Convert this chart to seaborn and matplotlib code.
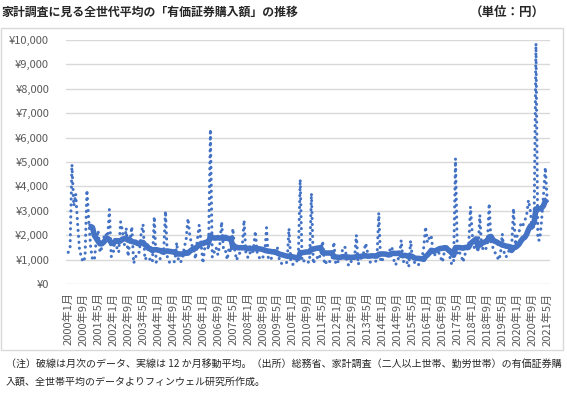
import matplotlib
matplotlib.use("Agg")
import matplotlib.pyplot as plt
from matplotlib.patches import Rectangle
import numpy as np
import pandas as pd
import seaborn as sns

# monthly securities purchases per household (yen)
y2000 = [1300, 1500, 4900, 3200, 3700, 2500, 1450, 1100, 900, 1100, 3850, 2600]
y2001 = [1500, 1000, 980, 1800, 2200, 1300, 1500, 1900, 2080, 1800, 3060, 1130]
y2002 = [1200, 1900, 1500, 1300, 2550, 2200, 1600, 2300, 1130, 1800, 2350, 850]
y2003 = [1100, 1300, 1300, 2080, 2450, 1000, 1100, 1000, 1030, 900, 2760, 900]
y2004 = [900, 1000, 1300, 1300, 2990, 1100, 900, 900, 850, 950, 1700, 900]
y2005 = [900, 1000, 1500, 1800, 2690, 2000, 1600, 1500, 1030, 1800, 2420, 1700]
y2006 = [850, 1500, 1700, 1400, 6340, 1100, 1300, 1500, 1200, 1600, 2550, 1400]
y2007 = [1400, 1000, 1500, 1300, 2280, 1400, 980, 1200, 1300, 1500, 2620, 1200]
y2008 = [1100, 1300, 1200, 1400, 2170, 1300, 1100, 1000, 1100, 1200, 2310, 1000]
y2009 = [1000, 1100, 1200, 1300, 1500, 900, 850, 800, 850, 900, 2280, 900]
y2010 = [800, 900, 900, 1100, 4290, 900, 950, 1000, 900, 900, 3720, 830]
y2011 = [1050, 1100, 1000, 1300, 1760, 800, 900, 1000, 900, 1000, 1720, 800]
y2012 = [900, 1000, 1200, 1530, 1500, 900, 750, 900, 1000, 1000, 2010, 800]
y2013 = [1000, 1100, 1300, 1670, 1300, 900, 900, 900, 900, 1000, 2920, 900]
y2014 = [1000, 1100, 1200, 1300, 1400, 1530, 1000, 780, 1000, 1100, 1800, 900]
y2015 = [1000, 900, 700, 1780, 1000, 900, 800, 760, 900, 1000, 1500, 2350]
y2016 = [1700, 1900, 2000, 1300, 1200, 1300, 1300, 1100, 900, 1300, 1500, 1400]
y2017 = [1100, 800, 900, 5150, 1200, 1300, 1200, 900, 1200, 1400, 1500, 3170]
y2018 = [2000, 1500, 1700, 1300, 2830, 1400, 1500, 1400, 1600, 3300, 1700, 1500]
y2019 = [1300, 1200, 980, 1200, 2060, 1300, 1100, 1300, 1400, 1500, 3100, 1600]
y2020 = [2000, 2150, 2500, 2400, 2600, 2800, 3440, 3000, 2200, 2400, 9860, 1800]
y2021 = [1800, 2600, 3600, 4780, 3400]

yearly = [y2000, y2001, y2002, y2003, y2004, y2005, y2006, y2007, y2008, y2009, y2010,
          y2011, y2012, y2013, y2014, y2015, y2016, y2017, y2018, y2019, y2020, y2021]
monthly = [v for year in yearly for v in year]

dates = pd.date_range("2000-01-01", periods=len(monthly), freq="MS")
df = pd.DataFrame({"pos": np.arange(len(monthly)), "value": monthly})
df["ma12"] = df["value"].rolling(12).mean()

title = "家計調査に見る全世代平均の「有価証券購入額」の推移"
unit = "（単位：円）"
note1 = "（注）破線は月次のデータ、実線は 12 か月移動平均。（出所）総務省、家計調査（二人以上世帯、勤労世帯）の有価証券購"
note2 = "入額、全世帯平均のデータよりフィンウェル研究所作成。"

blue = "#4472C4"
grey = "#595959"

sns.set_theme(style="white")
plt.rcParams["font.family"] = ["Noto Sans CJK JP", "DejaVu Sans"]

fig = plt.figure(figsize=(5.67, 3.94), dpi=100)
ax = fig.add_axes([0.116, 0.279, 0.854, 0.6195])

sns.lineplot(data=df, x="pos", y="value", ax=ax, color=blue, lw=2.2,
             linestyle=(0, (0.05, 1.9)), dash_capstyle="round")
sns.lineplot(data=df, x="pos", y="ma12", ax=ax, color=blue, lw=4.0,
             solid_capstyle="butt")

ax.set_xlim(-1.3, 257.5)
ax.set_ylim(0, 10000)
ax.set_yticks(np.arange(0, 10001, 1000))
ax.set_yticklabels([f"¥{v:,}" for v in range(0, 10001, 1000)])
tick_pos = df["pos"][::8]
ax.set_xticks(tick_pos)
ax.set_xticklabels([f"{d.year}年{d.month}月" for d in dates[::8]], rotation=90)
ax.tick_params(axis="both", length=0, labelsize=8, labelcolor=grey)
ax.tick_params(axis="y", pad=12)
ax.tick_params(axis="x", pad=6)
ax.set_xlabel("")
ax.set_ylabel("")
ax.yaxis.grid(True, color="#D9D9D9", lw=1)
ax.set_axisbelow(True)
for s in ax.spines.values():
    s.set_visible(False)

fig.patches.append(Rectangle((1 / 567, 1 - 350 / 394), 562 / 567, 322 / 394,
                             transform=fig.transFigure, fill=False,
                             ec="#D9D9D9", lw=1))
fig.text(0.002, 1 - 12.5 / 394, title, fontsize=8.6, weight="bold", va="center")
fig.text(470 / 567, 1 - 12.5 / 394, unit, fontsize=9, weight="bold", va="center")
fig.text(6 / 567, 1 - 364 / 394, note1, fontsize=7.2, va="center")
fig.text(6 / 567, 1 - 382 / 394, note2, fontsize=7.2, va="center")

fig.savefig("out.png", dpi=100)
